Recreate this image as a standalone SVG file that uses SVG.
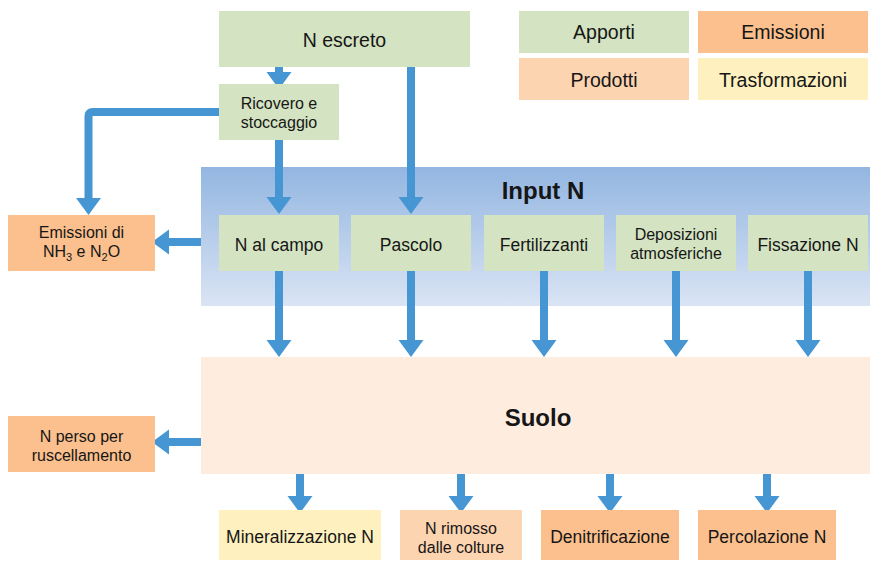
<svg xmlns="http://www.w3.org/2000/svg" width="870" height="561" viewBox="0 0 870 561">
<defs>
<linearGradient id="gInput" x1="0" y1="0" x2="0" y2="1">
<stop offset="0" stop-color="#93b6e1"/>
<stop offset="1" stop-color="#dae4f4"/>
</linearGradient>
<marker id="ah" markerUnits="userSpaceOnUse" markerWidth="18" markerHeight="26" refX="0" refY="12.5" orient="auto" viewBox="0 0 18 25">
<path d="M0,0 L17,12.5 L0,25 z" fill="#4596d3"/>
</marker>
</defs>
<style>
text{font-family:"Liberation Sans",Arial,sans-serif;fill:#161616;text-anchor:middle}
.t{font-size:17.5px}
.t2{font-size:16px}
.l{font-size:19.5px}
.b{font-size:24px;font-weight:bold}
.s{font-size:11px}
.apporti{fill:#d4e3c1}
.emis{fill:#fbc08d}
.prod{fill:#fdd4b0}
.trasf{fill:#fef1bf}
.c{fill:none;stroke:#4596d3;stroke-width:8;marker-end:url(#ah)}
</style>
<rect width="870" height="561" fill="#ffffff"/>

<g id="input-band">
<rect x="201" y="167" width="669" height="139" fill="url(#gInput)"/>
<text class="b" x="543" y="199">Input N</text>
</g>
<g id="suolo">
<rect x="201" y="357" width="669" height="117" fill="#feeddf"/>
<text class="b" x="538" y="426">Suolo</text>
</g>

<g id="legend">
<g id="leg-apporti"><rect class="apporti" x="519" y="11" width="170" height="42"/><text class="l" x="604" y="39">Apporti</text></g>
<g id="leg-emissioni"><rect class="emis" x="698" y="11" width="170" height="42"/><text class="l" x="783" y="39">Emissioni</text></g>
<g id="leg-prodotti"><rect class="prod" x="519" y="58" width="170" height="42"/><text class="l" x="604" y="87">Prodotti</text></g>
<g id="leg-trasf"><rect class="trasf" x="698" y="58" width="170" height="42"/><text class="l" x="783" y="87">Trasformazioni</text></g>
</g>

<g id="connectors">
<path class="c" d="M279,67 V72"/>
<path class="c" d="M219,112 H93 Q88.5,112 88.5,116.5 V198"/>
<path class="c" d="M279,140 V197"/>
<path class="c" d="M411,67 V197"/>
<path class="c" d="M201,242 H169"/>
<path class="c" d="M279,271 V340"/>
<path class="c" d="M411,271 V340"/>
<path class="c" d="M544,271 V340"/>
<path class="c" d="M676,271 V340"/>
<path class="c" d="M808,271 V340"/>
<path class="c" d="M201,442 H169"/>
<path class="c" d="M300,474 V496"/>
<path class="c" d="M461,474 V496"/>
<path class="c" d="M610,474 V496"/>
<path class="c" d="M767,474 V496"/>
</g>

<g id="n-escreto"><rect class="apporti" x="219" y="11" width="251" height="56"/><text class="l" x="344.5" y="47">N escreto</text></g>
<g id="ricovero"><rect class="apporti" x="219" y="84" width="120" height="56"/><text class="t2" x="279" y="109">Ricovero e</text><text class="t2" x="279" y="128">stoccaggio</text></g>

<g id="emissioni-nh3"><rect class="emis" x="8" y="215" width="147" height="56"/>
<text class="t2" x="81.5" y="238">Emissioni di</text>
<text class="t2" x="81.5" y="257">NH<tspan class="s" dy="4">3</tspan><tspan dy="-4"> e N</tspan><tspan class="s" dy="4">2</tspan><tspan dy="-4">O</tspan></text>
</g>

<g id="n-al-campo"><rect class="apporti" x="219" y="215" width="120" height="56"/><text class="t" x="279" y="251">N al campo</text></g>
<g id="pascolo"><rect class="apporti" x="351" y="215" width="120" height="56"/><text class="t" x="411" y="251">Pascolo</text></g>
<g id="fertilizzanti"><rect class="apporti" x="484" y="215" width="120" height="56"/><text class="t" x="544" y="251">Fertilizzanti</text></g>
<g id="deposizioni"><rect class="apporti" x="616" y="215" width="120" height="56"/><text class="t2" x="676" y="240">Deposizioni</text><text class="t2" x="676" y="259">atmosferiche</text></g>
<g id="fissazione"><rect class="apporti" x="748" y="215" width="120" height="56"/><text class="t" x="808" y="251">Fissazione N</text></g>

<g id="n-perso"><rect class="emis" x="8" y="416" width="147" height="56"/><text class="t2" x="81.5" y="442">N perso per</text><text class="t2" x="81.5" y="461">ruscellamento</text></g>

<g id="mineralizzazione"><rect class="trasf" x="219" y="510" width="162" height="50"/><text class="t" x="300" y="543">Mineralizzazione N</text></g>
<g id="n-rimosso"><rect class="prod" x="400" y="510" width="122" height="50"/><text class="t2" x="461" y="534">N rimosso</text><text class="t2" x="461" y="553">dalle colture</text></g>
<g id="denitrificazione"><rect class="emis" x="541" y="510" width="138" height="50"/><text class="t" x="610" y="543">Denitrificazione</text></g>
<g id="percolazione"><rect class="emis" x="698" y="510" width="138" height="50"/><text class="t" x="767" y="543">Percolazione N</text></g>
</svg>
